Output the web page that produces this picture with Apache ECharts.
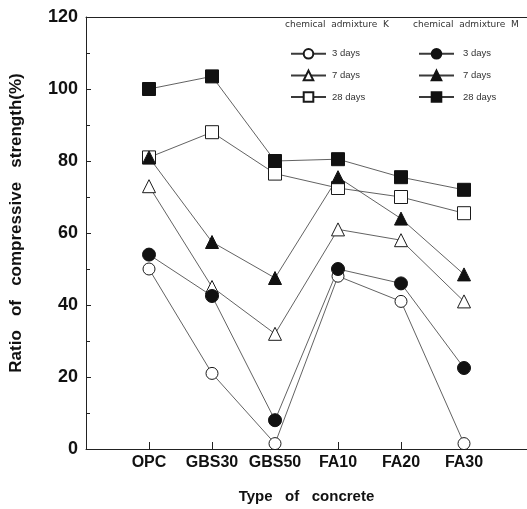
<!DOCTYPE html>
<html>
<head>
<meta charset="utf-8">
<script src="https://cdn.jsdelivr.net/npm/echarts@6/dist/echarts.min.js"></script>
<style>
  html, body { margin: 0; padding: 0; background: #fff; }
  #chart { width: 527px; height: 509px; }
</style>
</head>
<body>
<div id="chart"></div>
<script>
const categories = ['OPC', 'GBS30', 'GBS50', 'FA10', 'FA20', 'FA30']
const yTicks = [0, 20, 40, 60, 80, 100, 120]

// chemical admixture K (open markers)
const k3 = [50, 21, 1.5, 48, 41, 1.5]
const k7 = [73, 45, 32, 61, 58, 41]
const k28 = [81, 88, 76.5, 72.5, 70, 65.5]
// chemical admixture M (filled markers)
const m3 = [54, 42.5, 8, 50, 46, 22.5]
const m7 = [81, 57.5, 47.5, 75.5, 64, 48.5]
const m28 = [100, 103.5, 80, 80.5, 75.5, 72]

const chart = echarts.init(document.getElementById('chart'))

const pts = arr => arr.map((v, i) => [i, v])
const lineStyle = { color: '#3a3a3a', width: 0.8 }
const openItem = { color: '#fff', borderColor: '#1a1a1a', borderWidth: 1 }
const fillItem = { color: '#111', borderColor: '#111', borderWidth: 1 }

const mk = (name, data, symbol, size, item) => ({
  name,
  type: 'line',
  data: pts(data),
  symbol,
  symbolSize: size,
  showAllSymbol: true,
  lineStyle,
  itemStyle: item,
  emphasis: { disabled: true },
  animation: false
})

// trailing space keeps the K names apart from the M names
const series = [
  mk('3 days ', k3, 'circle', 12, openItem),
  mk('7 days ', k7, 'triangle', 13, openItem),
  mk('28 days ', k28, 'rect', 13, openItem),
  mk('3 days', m3, 'circle', 13, fillItem),
  mk('7 days', m7, 'triangle', 13, fillItem),
  mk('28 days', m28, 'rect', 13, fillItem)
]

const legendText = { fontSize: 9.5, color: '#333', fontFamily: 'Liberation Sans' }
const titleFont = { fontSize: 9, fill: '#333', fontFamily: 'DejaVu Sans' }

let option = {
  animation: false,
  grid: { left: 86, right: 0, top: 17, bottom: 57 },
  legend: [
    {
      data: ['3 days ', '7 days ', '28 days '],
      orient: 'vertical',
      left: 285,
      top: 43,
      itemWidth: 35,
      itemHeight: 12,
      itemGap: 10,
      textStyle: Object.assign({ padding: [0, 0, 0, 1] }, legendText),
      selectedMode: false
    },
    {
      data: ['3 days', '7 days', '28 days'],
      orient: 'vertical',
      left: 413,
      top: 43,
      itemWidth: 35,
      itemHeight: 12,
      itemGap: 10,
      textStyle: Object.assign({ padding: [0, 0, 0, 4] }, legendText),
      selectedMode: false
    }
  ],
  graphic: [
    { type: 'text', left: 285, top: 20, style: Object.assign({ text: 'chemical  admixture  K' }, titleFont) },
    { type: 'text', left: 413, top: 20, style: Object.assign({ text: 'chemical  admixture  M' }, titleFont) },
    {
      type: 'text',
      x: 16,
      y: 223,
      rotation: Math.PI / 2,
      style: {
        text: 'Ratio   of   compressive   strength(%)',
        fontSize: 17,
        fontWeight: 'bold',
        fill: '#111',
        fontFamily: 'Liberation Sans',
        align: 'center',
        verticalAlign: 'middle'
      }
    }
  ],
  xAxis: [
    {
      type: 'value',
      min: -1,
      max: 6,
      interval: 1,
      name: 'Type   of   concrete',
      nameLocation: 'middle',
      nameGap: 40,
      nameTextStyle: { fontSize: 15, fontWeight: 'bold', color: '#111', fontFamily: 'Liberation Sans' },
      splitLine: { show: false },
      axisLine: { onZero: false, lineStyle: { color: '#222', width: 1 } },
      axisTick: { inside: true, length: 7, customValues: [0, 1, 2, 3, 4, 5], lineStyle: { color: '#222' } },
      axisLabel: {
        customValues: [0, 1, 2, 3, 4, 5],
        formatter: v => categories[v] || '',
        fontSize: 16,
        fontWeight: 'bold',
        color: '#111',
        fontFamily: 'Liberation Sans',
        margin: 6
      }
    },
    {
      type: 'value',
      position: 'top',
      min: -1,
      max: 6,
      axisLine: { onZero: false, lineStyle: { color: '#222', width: 1 } },
      axisTick: { show: false },
      axisLabel: { show: false },
      splitLine: { show: false }
    }
  ],
  yAxis: {
    type: 'value',
    min: yTicks[0],
    max: yTicks[yTicks.length - 1],
    interval: 20,
    splitLine: { show: false },
    axisLine: { show: true, onZero: false, lineStyle: { color: '#222', width: 1 } },
    axisTick: { inside: true, length: 5, lineStyle: { color: '#222' } },
    minorTick: { show: true, splitNumber: 2, length: 4, lineStyle: { color: '#222' } },
    axisLabel: {
      fontSize: 18,
      fontWeight: 'bold',
      color: '#111',
      fontFamily: 'Liberation Sans',
      margin: 8
    }
  },
  series
}

chart.setOption(option)
</script>
</body>
</html>
